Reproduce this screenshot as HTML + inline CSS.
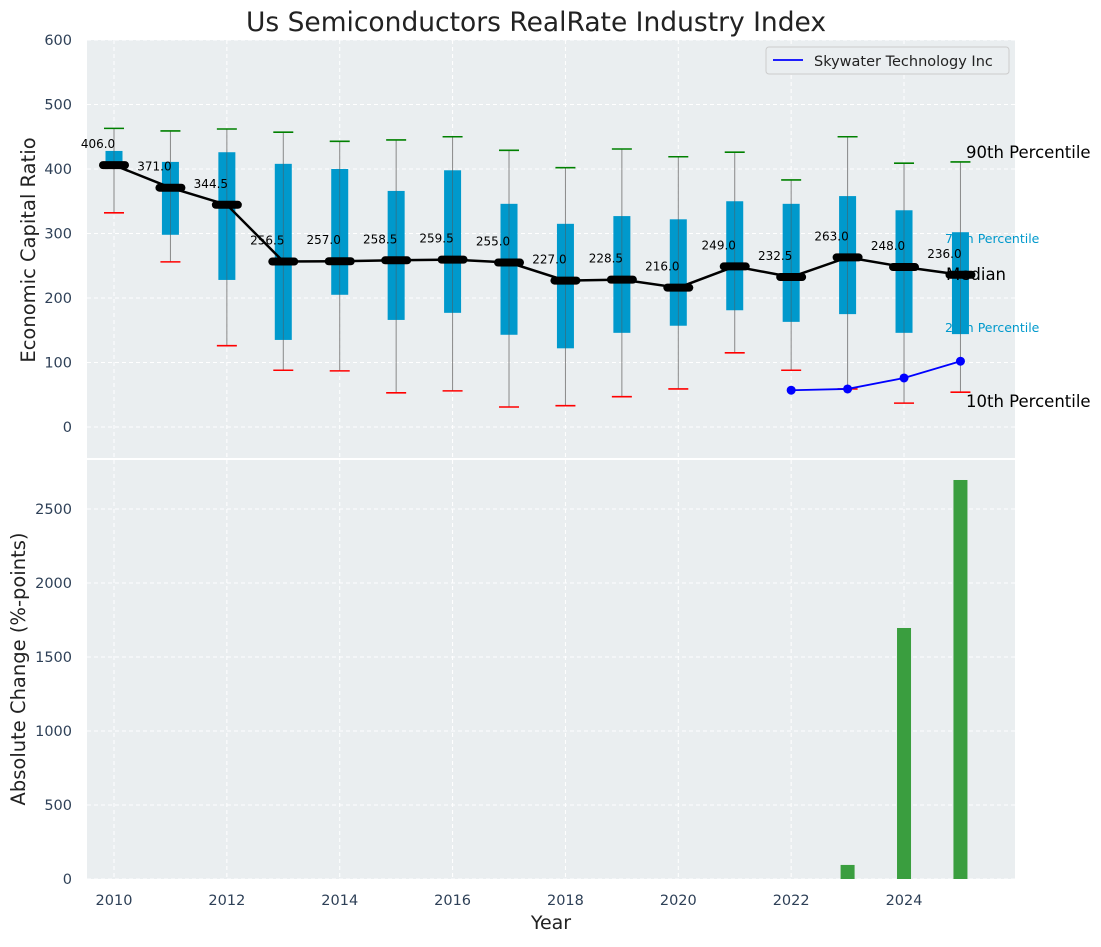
<!DOCTYPE html>
<html><head><meta charset="utf-8"><style>
body{margin:0;background:#fff;font-family:"Liberation Sans","DejaVu Sans",sans-serif}
svg text{font-family:"DejaVu Sans","Liberation Sans",sans-serif}
</style></head><body>
<svg id="c" width="1101" height="942" xmlns="http://www.w3.org/2000/svg"></svg>
<script>
const years=[2010,2011,2012,2013,2014,2015,2016,2017,2018,2019,2020,2021,2022,2023,2024,2025];
const medians=[406,371,344.5,256.5,257,258.5,259.5,255,227,228.5,216,249,232.5,263,248,236];
const p25=[404,298,228,135,205,166,177,143,122,146,157,181,163,175,146,144];
const p75=[428,411,426,408,400,366,398,346,315,327,322,350,346,358,336,302];
const p10=[332,256,126,88,87,53,56,31,33,47,59,115,88,59,37,54];
const p90=[463,459,462,457,443,445,450,429,402,431,419,426,383,450,409,411];
const skyYears=[2022,2023,2024,2025];
const skyVals=[57,59,76,102];
const barYears=[2023,2024,2025];
const barVals=[95,1696,2696];
const topTicks=[0,100,200,300,400,500,600];
const botTicks=[0,500,1000,1500,2000,2500];
const xTicks=[2010,2012,2014,2016,2018,2020,2022,2024];

const NS="http://www.w3.org/2000/svg",svg=document.getElementById('c');
function el(t,a,p){const e=document.createElementNS(NS,t);for(const k in a)e.setAttribute(k,a[k]);(p||svg).appendChild(e);return e;}
const X=y=>114+(y-2010)*56.43;
const Yt=v=>427-v*0.645;
const Yb=v=>879-v*0.148;
const L=87,R=1015;

let bg=el('rect',{x:L,y:40,width:R-L,height:418,fill:'#eaeef0'});

let bg2=el('rect',{x:L,y:460,width:R-L,height:419,fill:'#eaeef0'});


topTicks.forEach(t=>{el('line',{x1:L,x2:R,y1:Yt(t),y2:Yt(t),stroke:'#fff','stroke-dasharray':'4,3'});
 const tx=el('text',{x:72,y:Yt(t)+5,'text-anchor':'end','font-size':14.5,fill:'#2e4057'});tx.textContent=t;
 });
botTicks.forEach(t=>{el('line',{x1:L,x2:R,y1:Yb(t),y2:Yb(t),stroke:'#fff','stroke-dasharray':'4,3'});
 const tx=el('text',{x:72,y:Yb(t)+5,'text-anchor':'end','font-size':14.5,fill:'#2e4057'});tx.textContent=t;
 });
xTicks.forEach(t=>{el('line',{x1:X(t),x2:X(t),y1:40,y2:458,stroke:'#fff','stroke-dasharray':'4,3'});
 el('line',{x1:X(t),x2:X(t),y1:460,y2:879,stroke:'#fff','stroke-dasharray':'4,3'});
 const tx=el('text',{x:X(t),y:905,'text-anchor':'middle','font-size':14.5,fill:'#2e4057'});tx.textContent=t;
 });

years.forEach((y,i)=>{const x=X(y);
 const w=el('line',{x1:x,x2:x,y1:Yt(p10[i]),y2:Yt(p90[i]),stroke:'#888','stroke-width':1});
 
 const b=el('rect',{x:x-8.5,y:Yt(p75[i]),width:17,height:Yt(p25[i])-Yt(p75[i]),fill:'#0099cc'});
 
 el('line',{x1:x,x2:x,y1:Yt(p75[i]),y2:Yt(p25[i]),stroke:'#555','stroke-width':0.8,opacity:0.6});
 const c1=el('line',{x1:x-10,x2:x+10,y1:Yt(p90[i]),y2:Yt(p90[i]),stroke:'green','stroke-width':1.6});
 
 const c2=el('line',{x1:x-10,x2:x+10,y1:Yt(p10[i]),y2:Yt(p10[i]),stroke:'red','stroke-width':1.6});
 
});
const ml=el('polyline',{points:years.map((y,i)=>X(y)+','+Yt(medians[i])).join(' '),fill:'none',stroke:'#000','stroke-width':2.5});

years.forEach((y,i)=>{const x=X(y);
 const m=el('line',{x1:x-11,x2:x+11,y1:Yt(medians[i]),y2:Yt(medians[i]),stroke:'#000','stroke-width':8,'stroke-linecap':'round'});
 
 const t=el('text',{x:x-16,y:Yt(medians[i])-17,'text-anchor':'middle','font-size':12,fill:'#000'});t.textContent=medians[i].toFixed(1);
 
});
const sl=el('polyline',{points:skyYears.map((y,i)=>X(y)+','+Yt(skyVals[i])).join(' '),fill:'none',stroke:'#0000ff','stroke-width':1.8});

skyYears.forEach((y,i)=>{const d=el('circle',{cx:X(y),cy:Yt(skyVals[i]),r:4.5,fill:'#0000ff'});
 });
[['90th Percentile',966,158,16.5,'#000'],['Median',946,280,16.5,'#000'],['75th Percentile',945,243,12.5,'#0099cc'],['25th Percentile',945,332,12.5,'#0099cc'],['10th Percentile',966,407,16.5,'#000']].forEach(a=>{
 const t=el('text',{x:a[1],y:a[2],'font-size':a[3],fill:a[4]});t.textContent=a[0];
 });
barYears.forEach((y,i)=>{const b=el('rect',{x:X(y)-7,y:Yb(barVals[i]),width:14,height:Yb(0)-Yb(barVals[i]),fill:'#3a9e3f'});
 });
const lg=el('g',{});
el('rect',{x:766,y:47,width:243,height:27,fill:'#eaeef0',stroke:'#ccc',rx:3},lg);
el('line',{x1:773,x2:803,y1:60,y2:60,stroke:'#0000ff','stroke-width':1.8},lg);
const lt=el('text',{x:814,y:66,'font-size':14.5,fill:'#222'},lg);lt.textContent='Skywater Technology Inc';
const tt=el('text',{x:536,y:31,'text-anchor':'middle','font-size':26.5,fill:'#222'});tt.textContent='Us Semiconductors RealRate Industry Index';

const y1=el('text',{x:0,y:0,'text-anchor':'middle','font-size':19.5,fill:'#222',transform:'translate(35,250) rotate(-90)'});y1.textContent='Economic Capital Ratio';

const y2=el('text',{x:0,y:0,'text-anchor':'middle','font-size':19.5,fill:'#222',transform:'translate(25,669) rotate(-90)'});y2.textContent='Absolute Change (%-points)';

const xt=el('text',{x:551,y:929,'text-anchor':'middle','font-size':19,fill:'#222'});xt.textContent='Year';

</script>
</body></html>
